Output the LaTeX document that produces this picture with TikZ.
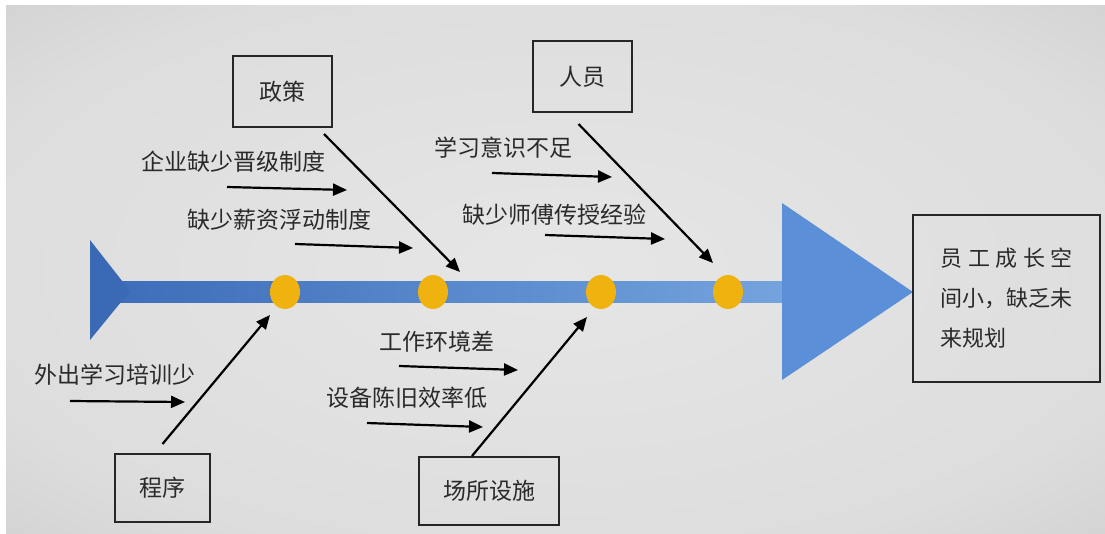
\documentclass[tikz,border=0pt]{standalone}
\usepackage{fontspec}
\newfontfamily\cjk{Noto Sans CJK SC}
\usetikzlibrary{arrows.meta,shapes.geometric}
\definecolor{bgA}{HTML}{E6E6E6}
\definecolor{bgB}{HTML}{DDDDDD}
\definecolor{bgC}{HTML}{C2C2C2}
\definecolor{bgD}{HTML}{A2A2A2}
\definecolor{spineL}{HTML}{3E6DBA}
\definecolor{spineR}{HTML}{74A3DE}
\definecolor{tailC}{HTML}{3A69B6}
\definecolor{headC}{HTML}{5B8FD7}
\definecolor{dotC}{HTML}{EFB20E}
\definecolor{txtC}{HTML}{2A2A2A}
\pgfdeclareradialshading{bgshade}{\pgfpoint{0bp}{0bp}}{color(0bp)=(bgA); color(28bp)=(bgB); color(50bp)=(bgC); color(72bp)=(bgD); color(100bp)=(bgD)}
\tikzset{
  catbox/.style={draw=black!85, line width=2pt, inner sep=0pt, font=\cjk\fontsize{23}{27}\selectfont, text=txtC},
  cause/.style={anchor=west, inner sep=0pt, font=\cjk\fontsize{23}{27}\selectfont, text=txtC},
  arr/.style={draw=black, line width=2.2pt, -{Triangle[length=14pt,width=12pt]}},
  dot/.style={ellipse, fill=dotC, minimum width=30pt, minimum height=34pt, inner sep=0pt}
}
\begin{document}
\begin{tikzpicture}[x=1pt,y=-1pt]
\useasboundingbox (0,0) rectangle (1105,533);
\fill[white] (0,0) rectangle (1105,533);
\shade[shading=bgshade] (6,5) rectangle (1105,533);
% spine
\shade[left color=spineL, right color=spineR] (118,281) rectangle (784,302);
\fill[tailC] (90,240) -- (130,291) -- (90,340) -- cycle;
\fill[headC] (782,203) -- (913,292) -- (782,380) -- cycle;
% joints
\node[dot] (j1) at (285,292) {};
\node[dot] (j2) at (433,292) {};
\node[dot] (j3) at (601,292) {};
\node[dot] (j4) at (728,292) {};
% category boxes
\node[catbox, minimum width=99pt, minimum height=71pt] (zc) at (282.5,91.5) {政策};
\node[catbox, minimum width=99pt, minimum height=71pt] (ry) at (582.5,76.5) {人员};
\node[catbox, minimum width=95pt, minimum height=68pt] (cx) at (162.5,488) {程序};
\node[catbox, minimum width=140pt, minimum height=68pt] (cs) at (489,491) {场所设施};
% result
\node[catbox, minimum width=187pt, minimum height=167pt, align=left, font=\cjk\fontsize{22}{40}\selectfont] (res) at (1006.5,298.5)
  {\makebox[132pt][s]{员\hfil 工\hfil 成\hfil 长\hfil 空}\\间小，缺乏未\\来规划};
% bone end points
\coordinate (e1) at (270,315);
\coordinate (e2) at (460,272);
\coordinate (e3) at (587,317);
\coordinate (e4) at (713,263);
\draw[arr] ([shift={(-9,6)}]zc.south east) -- (e2);
\draw[arr] ([shift={(-4,11)}]ry.south) -- (e4);
\draw[arr] ([shift={(0,-9)}]cx.north) -- (e1);
\draw[arr] ([shift={(-17,0)}]cs.north) -- (e3);
% cause labels
\node[cause] (c1) at (141,162) {企业缺少晋级制度};
\node[cause] (c2) at (187,220) {缺少薪资浮动制度};
\node[cause] (c3) at (434,148) {学习意识不足};
\node[cause] (c4) at (462,215) {缺少师傅传授经验};
\node[cause] (c5) at (34,375) {外出学习培训少};
\node[cause] (c6) at (379,342) {工作环境差};
\node[cause] (c7) at (326,398) {设备陈旧效率低};
% cause arrows
\coordinate (a1s) at (227,187); \coordinate (a1e) at (347,190);
\coordinate (a2s) at (295,244); \coordinate (a2e) at (413,248);
\coordinate (a3s) at (492,173); \coordinate (a3e) at (612,177);
\coordinate (a4s) at (545,235); \coordinate (a4e) at (665,239);
\coordinate (a5s) at (70,401);  \coordinate (a5e) at (185,402);
\coordinate (a6s) at (399,366); \coordinate (a6e) at (518,370);
\coordinate (a7s) at (367,423); \coordinate (a7e) at (483,427);
\draw[arr] (a1s) -- (a1e);
\draw[arr] (a2s) -- (a2e);
\draw[arr] (a3s) -- (a3e);
\draw[arr] (a4s) -- (a4e);
\draw[arr] (a5s) -- (a5e);
\draw[arr] (a6s) -- (a6e);
\draw[arr] (a7s) -- (a7e);
\end{tikzpicture}
\end{document}
